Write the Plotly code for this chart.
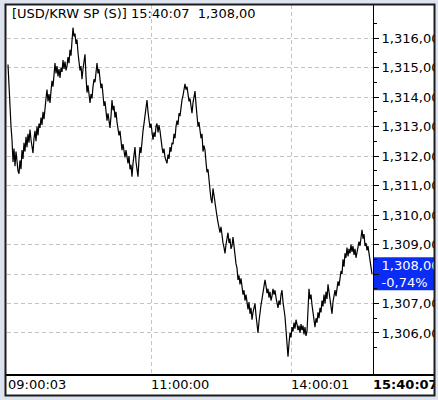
import plotly.graph_objects as go

# ---------------- data ----------------
symbol = "USD/KRW SP (S)"
last_time = "15:40:07"
change_pct = -0.74

price = [
    1315.10, 1314.20, 1313.30, 1313.00, 1312.55, 1311.80, 1312.25, 1311.65, 1312.15, 1311.75,
    1311.50, 1311.40, 1311.85, 1311.55, 1312.20, 1311.90, 1312.45, 1312.15, 1312.65, 1312.30,
    1312.75, 1312.45, 1312.90, 1312.55, 1312.35, 1312.10, 1312.60, 1312.85, 1312.50, 1313.00,
    1312.70, 1313.10, 1312.95, 1313.30, 1313.05, 1313.50, 1313.25, 1313.75, 1313.95, 1314.25,
    1313.85, 1314.10, 1313.80, 1314.20, 1314.55, 1314.35, 1314.80, 1315.15, 1314.80, 1315.05,
    1314.70, 1314.95, 1314.65, 1315.00, 1314.85, 1315.25, 1314.95, 1315.20, 1314.90, 1315.05,
    1315.35, 1315.15, 1315.60, 1315.40, 1315.90, 1316.35, 1316.05, 1316.15, 1315.80, 1315.95,
    1315.50, 1315.20, 1314.90, 1315.05, 1314.60, 1314.95, 1315.20, 1315.45, 1314.70, 1314.15,
    1314.40, 1314.05, 1313.80, 1314.10, 1313.95, 1314.35, 1314.60, 1314.50, 1314.85, 1315.15,
    1314.80, 1314.95, 1314.60, 1314.30, 1314.45, 1314.00, 1313.70, 1313.85, 1313.45, 1313.20,
    1313.45, 1313.10, 1312.95, 1313.35, 1313.90, 1313.55, 1313.70, 1313.30, 1313.50, 1313.15,
    1312.95, 1312.70, 1312.85, 1312.45, 1312.20, 1312.40, 1312.05, 1311.95, 1312.20, 1311.85,
    1311.75, 1312.00, 1311.55, 1311.70, 1311.30, 1311.75, 1312.05, 1312.30, 1311.80, 1311.55,
    1311.30, 1311.90, 1312.30, 1312.10, 1312.55, 1312.85, 1313.10, 1313.40, 1313.70, 1313.90,
    1313.50, 1313.20, 1312.95, 1313.10, 1312.70, 1312.55, 1312.80, 1312.65, 1313.00, 1313.10,
    1312.80, 1313.05, 1312.85, 1312.50, 1312.30, 1312.10, 1312.25, 1311.95, 1311.85, 1311.75,
    1312.05, 1311.90, 1312.30, 1312.15, 1312.45, 1312.40, 1312.75, 1312.60, 1313.00, 1313.20,
    1313.05, 1313.45, 1313.35, 1313.70, 1313.90, 1314.05, 1314.30, 1314.45, 1314.25, 1314.35,
    1314.10, 1313.85, 1313.95, 1313.60, 1313.45, 1313.80, 1314.05, 1314.20, 1313.75, 1313.40,
    1313.00, 1313.15, 1312.95, 1312.60, 1312.75, 1312.15, 1312.35, 1312.20, 1311.80, 1311.45,
    1311.55, 1311.05, 1310.85, 1310.55, 1310.40, 1310.90, 1310.65, 1310.30, 1310.15, 1309.95,
    1309.75, 1309.55, 1309.40, 1309.60, 1309.25, 1309.05, 1308.90, 1308.70, 1309.00, 1309.25,
    1309.40, 1309.05, 1309.20, 1308.85, 1308.95, 1309.25, 1308.90, 1308.55, 1308.35, 1308.20,
    1307.80, 1307.95, 1307.65, 1307.85, 1307.55, 1307.30, 1307.45, 1307.10, 1307.30, 1306.95,
    1306.80, 1307.05, 1306.65, 1306.85, 1306.45, 1306.70, 1306.90, 1307.00, 1306.60, 1306.30,
    1306.00, 1306.40, 1306.75, 1306.95, 1307.15, 1307.40, 1307.55, 1307.80, 1307.60, 1307.35,
    1307.50, 1307.20, 1307.40, 1307.10, 1307.25, 1307.50, 1307.30, 1307.45, 1307.20, 1307.00,
    1306.85, 1307.10, 1306.95, 1307.30, 1307.45, 1307.05, 1306.80, 1306.55, 1306.10, 1305.70,
    1305.20, 1305.65, 1306.00, 1305.85, 1306.20, 1306.05, 1306.35, 1306.15, 1306.45, 1306.30,
    1306.10, 1306.25, 1306.00, 1306.30, 1306.10, 1306.25, 1305.95, 1306.20, 1305.90, 1306.05,
    1307.05, 1307.50, 1307.15, 1307.30, 1306.95, 1306.70, 1306.45, 1306.20, 1306.50, 1306.35,
    1306.70, 1306.50, 1306.85, 1306.70, 1307.10, 1306.90, 1307.30, 1307.00, 1307.40, 1307.15,
    1307.65, 1307.35, 1307.05, 1306.80, 1306.65, 1307.05, 1307.30, 1307.45, 1307.25, 1307.55,
    1307.75, 1307.60, 1307.90, 1308.10, 1308.00, 1308.50, 1308.25, 1308.70, 1308.55, 1308.90,
    1308.60, 1308.85, 1308.70, 1309.00, 1308.75, 1308.95, 1308.65, 1308.85, 1308.55, 1308.70,
    1308.90, 1309.10, 1308.95, 1309.25, 1309.50, 1309.20, 1309.35, 1308.95, 1309.05, 1308.80,
    1308.95, 1308.70, 1308.50, 1308.20, 1308.00,
]

# sample index of each time tick along the session
time_tick_idx = [0, 143, 283, 365]
time_tick_labels = ["09:00:03", "11:00:00", "14:00:01", "15:40:07"]
price_ticks = [1306, 1307, 1308, 1309, 1310, 1311, 1312, 1313, 1314, 1315, 1316]

# ---------------- helpers ----------------
def kfmt(v):
    return f"{v:,.2f}".replace(".", ",")

last = price[-1]
YMIN, YMAX = 1304.576, 1317.119
FONT = "DejaVu Sans"
STRIP = "#dde3ef"
BLUE = "#0a2cf5"

W, H = 438, 400
ML, MR, MT, MB = 7, 65, 5, 25
PW, PH = W - ML - MR, H - MT - MB


def px(x):  # pixel -> paper x
    return (x - ML) / PW


def py(y):  # pixel -> paper y
    return (H - MB - y) / PH


def vy(v):  # value -> paper y
    return (v - YMIN) / (YMAX - YMIN)


ytext = []
for v in price_ticks:
    if abs(v - round(last)) < 1e-9:
        pct = f"{change_pct:.2f}".replace(".", ",")
        ytext.append(f"<span style='color:white'>{kfmt(v)}<br>{pct}%</span>")
    else:
        ytext.append(kfmt(v))

xtext = [t if i < len(time_tick_labels) - 1 else f"<b>{t}</b>"
         for i, t in enumerate(time_tick_labels)]

fig = go.Figure()
fig.add_trace(go.Scatter(
    x=list(range(len(price))), y=price, mode="lines",
    line=dict(color="black", width=1.2), hoverinfo="skip", showlegend=False,
))

fig.update_layout(
    width=W, height=H,
    margin=dict(l=ML, r=MR, t=MT, b=MB, pad=0, autoexpand=False),
    paper_bgcolor=STRIP, plot_bgcolor="rgba(0,0,0,0)",
    font=dict(family=FONT, size=13, color="black"),
    showlegend=False,
    xaxis=dict(
        range=[-1, 365], tickmode="array", tickvals=time_tick_idx, ticktext=xtext,
        ticks="", showline=False, zeroline=False, automargin=False,
        showgrid=True, gridcolor="#c4c4c4", griddash="4px,3px", gridwidth=1,
        ticklabelposition="outside right", tickfont=dict(size=13),
        fixedrange=True,
    ),
    yaxis=dict(
        range=[YMIN, YMAX], side="right", tickmode="array", tickvals=price_ticks,
        ticktext=ytext, ticks="outside", ticklen=5, tickcolor="black", tickwidth=1,
        showline=True, linecolor="black", linewidth=1, zeroline=False, automargin=False,
        showgrid=True, gridcolor="#c4c4c4", griddash="4px,3px", gridwidth=1,
        minor=dict(tickmode="array", tickvals=[v + 0.5 for v in price_ticks[:-1]] + [price_ticks[0] - 0.5, price_ticks[-1] + 0.5],
                   ticks="outside", ticklen=3, tickcolor="black", showgrid=False),
        tickfont=dict(size=13), fixedrange=True,
    ),
    shapes=[
        # white inner panel
        dict(type="rect", xref="paper", yref="paper", layer="below",
             x0=px(5), x1=px(435), y0=py(396), y1=py(4),
             fillcolor="white", line=dict(width=0)),
        # blue current-price box
        dict(type="rect", xref="paper", yref="paper", layer="below",
             x0=px(373.5), x1=px(434), y0=vy(last - 0.55), y1=vy(last + 0.57),
             fillcolor=BLUE, line=dict(width=0)),
        # cover label overflow at right edge
        dict(type="rect", xref="paper", yref="paper", layer="above",
             x0=px(434), x1=px(445), y0=py(405), y1=py(-5),
             fillcolor=STRIP, line=dict(width=0)),
        # bottom separator line
        dict(type="line", xref="paper", yref="paper", layer="above",
             x0=px(6), x1=px(434), y0=py(375), y1=py(375),
             line=dict(color="black", width=2)),
        # outer frame
        dict(type="rect", xref="paper", yref="paper", layer="above",
             x0=px(5.5), x1=px(434.5), y0=py(395.5), y1=py(4.5),
             line=dict(color="#1c1c1c", width=2), fillcolor="rgba(0,0,0,0)"),
    ],
    annotations=[
        dict(xref="paper", yref="paper", x=px(10), y=py(14), xanchor="left", yanchor="middle",
             text=f"[{symbol}]&nbsp;{last_time}&nbsp;&nbsp;{kfmt(last)}", showarrow=False,
             font=dict(family=FONT, size=13, color="black")),
    ],
)

fig.write_html(
    "out.html",
    config={"displayModeBar": False},
    post_script="document.body.style.margin='0';document.body.style.overflow='hidden';",
)
